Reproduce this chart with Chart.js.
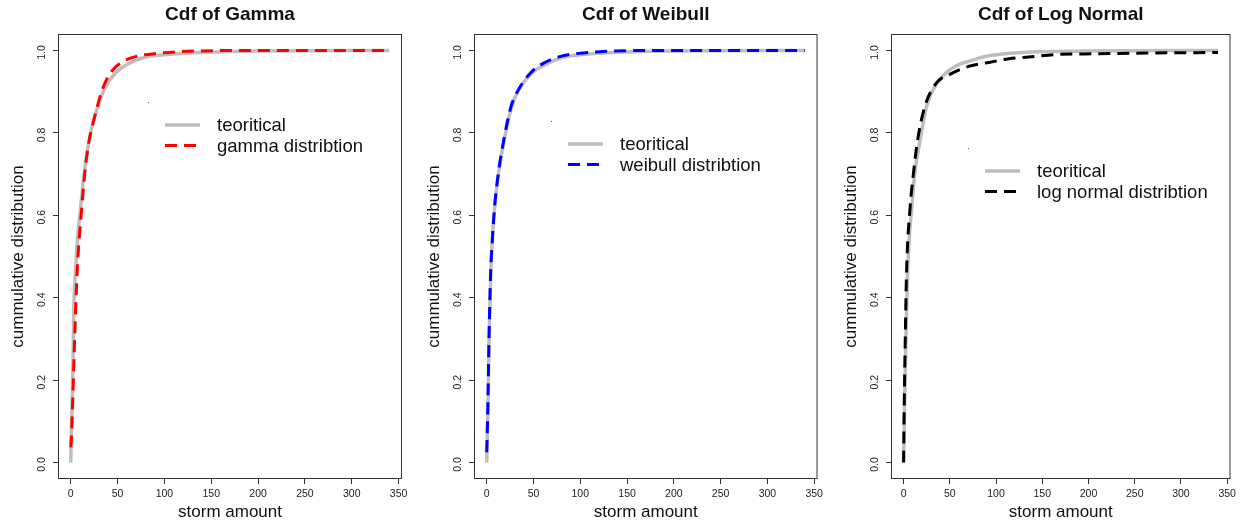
<!DOCTYPE html>
<html lang="en">
<head>
  <meta charset="UTF-8" />
  <title>Cdf of fitted distributions</title>
  <style>
    html, body { margin: 0; padding: 0; background: #fff; }
    .panel { position: absolute; top: 0; height: 525px; }
  </style>
</head>
<body>
  <div class="panel" style="left:0;width:413px"><canvas id="gammaChart"></canvas></div>
  <div class="panel" style="left:413px;width:414px"><canvas id="weibullChart"></canvas></div>
  <div class="panel" style="left:827px;width:413px"><canvas id="lognormChart"></canvas></div>

  <script src="https://cdn.jsdelivr.net/npm/chart.js@4.4.0/dist/chart.umd.min.js"></script>
  <script>
    // --- values ----------------------------------------------------
    const xTicks = [0, 50, 100, 150, 200, 250, 300, 350];
    const yTicks = [0.0, 0.2, 0.4, 0.6, 0.8, 1.0];

    const gammaTheoX = [0, 0.5, 1.8, 2.8, 3.5, 5.3, 7.1, 10.6, 14.2, 19.5, 23.7, 29, 35.5, 48, 60, 78, 103, 138, 200, 340];
    const gammaTheoY = [0, 0.06, 0.17, 0.30, 0.39, 0.47, 0.54, 0.62, 0.70, 0.78, 0.825, 0.864, 0.905, 0.946, 0.966, 0.983, 0.99, 0.995, 0.999, 1.0];
    const gammaFitX = [0, 0.7, 2.1, 4.3, 7.1, 11.5, 14.9, 19.5, 24.8, 33.7, 42.5, 55, 69, 92, 140, 200, 340];
    const gammaFitY = [0.037, 0.06, 0.15, 0.31, 0.475, 0.61, 0.70, 0.78, 0.832, 0.905, 0.946, 0.972, 0.985, 0.993, 0.999, 1.0, 1.0];

    const weibTheoX = [0, 0.5, 1.4, 2.5, 4.3, 6, 8.5, 12.5, 18.5, 26.7, 34.5, 48.8, 63, 80.8, 102, 140, 200, 340];
    const weibTheoY = [0, 0.05, 0.135, 0.297, 0.46, 0.54, 0.62, 0.70, 0.78, 0.864, 0.905, 0.946, 0.966, 0.983, 0.99, 0.996, 0.999, 1.0];
    const weibFitX = [0, 1.2, 2.4, 4.2, 6, 8.4, 12.3, 18, 26, 34, 47, 60, 78, 98, 130, 180, 340];
    const weibFitY = [0.025, 0.135, 0.297, 0.46, 0.54, 0.62, 0.70, 0.78, 0.864, 0.905, 0.946, 0.968, 0.985, 0.993, 0.998, 1.0, 1.0];

    const lnormTheoX = [0, 0.4, 1, 2.5, 4.3, 6, 8.9, 12, 17.7, 24.8, 32, 46, 60, 71, 92, 114, 150, 200, 340];
    const lnormTheoY = [0, 0.05, 0.135, 0.297, 0.46, 0.54, 0.62, 0.70, 0.78, 0.864, 0.905, 0.946, 0.966, 0.974, 0.987, 0.993, 0.997, 0.999, 1.0];
    const lnormFitX = [0, 0.7, 1.8, 3.2, 7.1, 10.6, 15, 23, 35.4, 50, 71, 92.5, 114, 135, 163, 210, 270, 340];
    const lnormFitY = [0, 0.135, 0.297, 0.46, 0.62, 0.70, 0.78, 0.864, 0.921, 0.942, 0.962, 0.971, 0.980, 0.984, 0.99, 0.992, 0.994, 0.995];

    // --- shared look -------------------------------------------------
    const FONT = '"Liberation Sans", Arial, sans-serif';
    const GRAY = '#bebebe';
    const DASH = [12, 7];

    const toPts = (xs, ys) => xs.map((x, i) => ({ x, y: ys[i] }));

    // box, title and legend the R way
    const panelDecor = {
      id: 'panelDecor',
      afterDraw(chart, args, opts) {
        const { ctx, chartArea: a, scales } = chart;
        ctx.save();
        ctx.strokeStyle = '#333';
        ctx.lineWidth = 1;
        ctx.strokeRect(a.left + 0.5, a.top + 0.5, a.right - a.left - 1, a.bottom - a.top - 1);

        ctx.fillStyle = '#111';
        ctx.font = 'bold 19px ' + FONT;
        ctx.textAlign = 'center';
        ctx.textBaseline = 'middle';
        ctx.fillText(opts.title, (a.left + a.right) / 2, 15);

        // legend anchored in data coordinates
        const lx = Math.round(scales.x.getPixelForValue(opts.legendAt[0]));
        const ly = Math.round(scales.y.getPixelForValue(opts.legendAt[1]));
        ctx.fillStyle = '#555';
        ctx.fillRect(lx, ly, 1, 1);
        const rows = [
          { text: 'teoritical', color: GRAY, dash: [], width: 3.5 },
          { text: opts.fitLabel, color: opts.fitColor, dash: DASH, width: 3 }
        ];
        rows.forEach((r, i) => {
          const yy = ly + 23 + i * 20.5;
          ctx.beginPath();
          ctx.setLineDash(r.dash);
          ctx.strokeStyle = r.color;
          ctx.lineWidth = r.width;
          ctx.moveTo(lx + 17, yy);
          ctx.lineTo(lx + 52, yy);
          ctx.stroke();
          ctx.setLineDash([]);
          ctx.fillStyle = '#111';
          ctx.font = '18.5px ' + FONT;
          ctx.textAlign = 'left';
          ctx.fillText(r.text, lx + 69, yy + 1);
        });
        ctx.restore();
      }
    };

    function makePanel(id, cfg) {
      const canvas = document.getElementById(id);
      const W = canvas.parentNode.clientWidth;
      return new Chart(canvas, {
        type: 'scatter',
        data: {
          datasets: [
            {
              label: cfg.fitLabel,
              data: toPts(cfg.fitX, cfg.fitY),
              showLine: true,
              borderColor: cfg.fitColor,
              borderWidth: 3,
              borderDash: DASH,
              pointRadius: 0,
              cubicInterpolationMode: 'monotone'
            },
            {
              label: 'teoritical',
              data: toPts(cfg.theoX, cfg.theoY),
              showLine: true,
              borderColor: GRAY,
              borderWidth: 3.5,
              pointRadius: 0,
              cubicInterpolationMode: 'monotone'
            }
          ]
        },
        options: {
          responsive: true,
          maintainAspectRatio: false,
          animation: false,
          layout: { padding: { top: 34, right: W - cfg.right, left: 0, bottom: 0 } },
          scales: {
            x: {
              type: 'linear',
              min: -13.6, max: 353.6,
              afterBuildTicks: s => { s.ticks = xTicks.map(v => ({ value: v })); },
              afterFit: s => { s.height = 46; },
              ticks: { color: '#222', font: { family: FONT, size: 10.5 }, padding: 4, maxRotation: 0 },
              grid: { drawOnChartArea: false, drawTicks: true, tickLength: 5, color: '#333' },
              border: { display: false },
              title: { display: true, text: 'storm amount', color: '#111', font: { family: FONT, size: 17 }, padding: { top: 0, bottom: 2 } }
            },
            y: {
              type: 'linear',
              min: -0.04, max: 1.04,
              afterBuildTicks: s => { s.ticks = yTicks.map(v => ({ value: v })); },
              afterFit: s => { s.width = cfg.left; },
              ticks: {
                color: '#222', font: { family: FONT, size: 10.5 }, padding: 4,
                minRotation: 90, maxRotation: 90, crossAlign: 'center', labelOffset: 2,
                callback: v => Number(v).toFixed(1)
              },
              grid: { drawOnChartArea: false, drawTicks: true, tickLength: 5, color: '#333' },
              border: { display: false },
              title: { display: true, text: 'cummulative distribution', color: '#111', font: { family: FONT, size: 17 }, padding: { top: cfg.left - 50, bottom: 0 } }
            }
          },
          plugins: {
            legend: { display: false },
            tooltip: { enabled: false },
            panelDecor: { title: cfg.title, fitLabel: cfg.fitLabel, fitColor: cfg.fitColor, legendAt: cfg.legendAt }
          }
        },
        plugins: [panelDecor]
      });
    }

    makePanel('gammaChart', {
      title: 'Cdf of Gamma', fitLabel: 'gamma distribtion', fitColor: '#ff0000',
      theoX: gammaTheoX, theoY: gammaTheoY, fitX: gammaFitX, fitY: gammaFitY,
      left: 58, right: 402, legendAt: [82, 0.876]
    });
    makePanel('weibullChart', {
      title: 'Cdf of Weibull', fitLabel: 'weibull distribtion', fitColor: '#0000ff',
      theoX: weibTheoX, theoY: weibTheoY, fitX: weibFitX, fitY: weibFitY,
      left: 61, right: 406, legendAt: [69, 0.83]
    });
    makePanel('lognormChart', {
      title: 'Cdf of Log Normal', fitLabel: 'log normal distribtion', fitColor: '#000000',
      theoX: lnormTheoX, theoY: lnormTheoY, fitX: lnormFitX, fitY: lnormFitY,
      left: 64, right: 407, legendAt: [70, 0.764]
    });
  </script>
</body>
</html>
